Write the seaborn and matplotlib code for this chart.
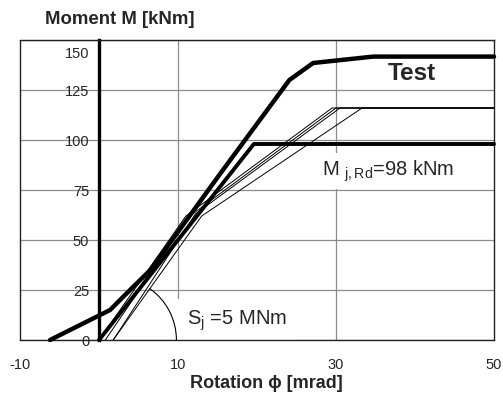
import numpy as np
import pandas as pd
import matplotlib
matplotlib.use("Agg")
import matplotlib.pyplot as plt
import matplotlib.transforms as mtransforms
import seaborn as sns
from matplotlib.patches import Arc

# test curve (thick)
test_rot = [-6.2, 1.4, 3.8, 6.5, 15.5, 24.1, 27.1, 34.7, 50]
test_mom = [0, 15, 24.5, 35, 84, 130, 138.5, 141.7, 141.7]

# design resistance line
mjrd_rot = [0, 19.6, 50]
mjrd_mom = [0, 98, 98]

# thin model curves
model_rot = [
    [0.0, 11.0, 29.5, 50],
    [0.8, 11.5, 30.0, 50],
    [1.8, 12.2, 30.5, 50],
    [1.8, 13.0, 33.3, 50],
]
model_mom = [
    [0, 62, 116, 116],
    [0, 62, 116, 116],
    [0, 63, 116, 116],
    [0, 62, 116, 116],
]

x_ticks = [-10, 10, 30, 50]
y_ticks = [0, 25, 50, 75, 100, 125, 150]

sns.set_style("white")
plt.rcParams['font.family'] = ['Liberation Sans', 'DejaVu Sans']
plt.rcParams['axes.unicode_minus'] = False
plt.rcParams['mathtext.fontset'] = 'custom'
plt.rcParams['mathtext.rm'] = 'Liberation Sans'
plt.rcParams['mathtext.it'] = 'Liberation Sans:italic'

fig = plt.figure(figsize=(5.03, 3.99), dpi=100)
ax = fig.add_axes([20 / 503, 59 / 399, 474 / 503, 300 / 399])

rows = []
for i, (r, m) in enumerate(zip(model_rot, model_mom)):
    for a, b in zip(r, m):
        rows.append({"curve": i, "rot": a, "mom": b})
df_model = pd.DataFrame(rows)

sns.lineplot(data=df_model, x="rot", y="mom", units="curve", estimator=None,
             sort=False, color="black", lw=0.7, ax=ax, zorder=3)
sns.lineplot(x=mjrd_rot, y=mjrd_mom, sort=False, color="black", lw=2.8,
             ax=ax, zorder=4, clip_on=False)
sns.lineplot(x=test_rot, y=test_mom, sort=False, color="black", lw=3.2,
             ax=ax, zorder=5, clip_on=False)

ax.set_xlim(-10, 50)
ax.set_ylim(0, 150)
ax.set_xticks(x_ticks)
ax.set_yticks(y_ticks)

ax.grid(True, axis="y", color="#8c8c8c", lw=0.9)
ax.set_axisbelow(True)
for xv in [10, 30]:
    ax.axvline(xv, color="#8c8c8c", lw=0.9, zorder=0.5)

# axes frame: y-axis at x=0, outer box
ax.spines["left"].set_position(("data", 0))
ax.spines["left"].set_linewidth(2.4)
ax.spines["left"].set_color("black")
for s in ["top", "right", "bottom"]:
    ax.spines[s].set_visible(True)
    ax.spines[s].set_color("#222222")
    ax.spines[s].set_linewidth(1.0)
ax.axvline(-10, color="#222222", lw=1.0, zorder=6, clip_on=False)

ax.tick_params(axis="y", direction="out", length=4, width=1, pad=3,
               labelsize=10.5, color="black")
ax.tick_params(axis="x", direction="out", length=4, width=1, pad=9,
               labelsize=10.5, color="black")
ax.set_xlabel("")
ax.set_ylabel("")

# push top "150" label down a bit like the original
for lab in ax.get_yticklabels():
    if lab.get_text() == "150":
        lab.set_transform(lab.get_transform() +
                          mtransforms.ScaledTranslation(0, -12 / 100, fig.dpi_scale_trans))

# initial stiffness arc (circle in pixel space)
rx, ry = 8.0, 31.5
t_end = np.degrees(np.arctan2(ry * np.sin(np.radians(55)), rx * np.cos(np.radians(55))))
arc = Arc((1.8, 0), width=2 * rx, height=2 * ry, theta1=0, theta2=t_end,
          color="black", lw=0.8, zorder=4)
ax.add_patch(arc)

ax.text(11.1, 9.5, r"S$_{\rm j}$ =5 MNm", fontsize=14.5, va="center", ha="left",
        zorder=1.5, bbox=dict(fc="white", ec="none", pad=7))
ax.text(28.2, 84.5, r"M $_{\rm j,Rd}$=98 kNm", fontsize=14.5, va="center", ha="left",
        zorder=1.5, bbox=dict(fc="white", ec="none", pad=3.5))
ax.text(36.5, 133, "Test", fontsize=17.5, fontweight="bold", va="center", ha="left",
        zorder=1.5)

fig.text(45 / 503, 1 - 20 / 399, "Moment M [kNm]", fontsize=13.4, fontweight="bold",
         va="center", ha="left")
fig.text(266 / 503, 1 - 383 / 399, "Rotation ϕ [mrad]", fontsize=13, fontweight="bold",
         va="center", ha="center")

fig.savefig("out.png", dpi=100)
